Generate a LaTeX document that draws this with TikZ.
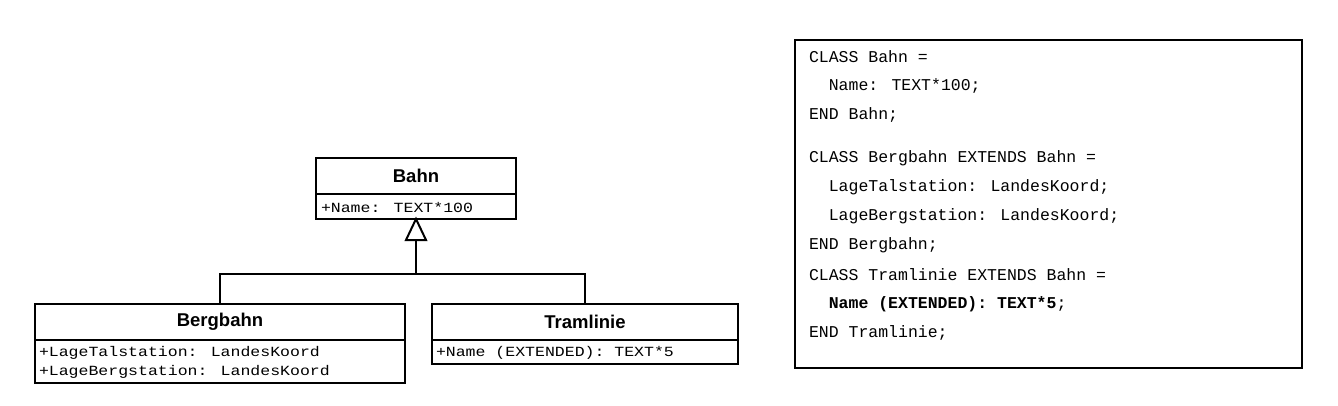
\documentclass[tikz,border=0pt]{standalone}
\usepackage{fontspec}
\setmainfont{Liberation Sans}
\newfontfamily\cmono{Liberation Mono}
\begin{document}
\begin{tikzpicture}[x=1pt,y=-1pt,line width=2pt,
  hdr/.style={font=\fontsize{18.5}{22}\selectfont\bfseries,anchor=center},
  attr/.style={font=\cmono\fontsize{14}{24}\selectfont,anchor=west,inner sep=0pt},
  code/.style={font=\cmono\fontsize{16.5}{29}\selectfont,anchor=west,inner sep=0pt}]
\useasboundingbox (0,0) rectangle (1338,406);
% Bahn
\draw (316,158) rectangle (516,219);
\draw (316,194) -- (516,194);
\node[hdr] (bahn) at (416,176) {Bahn};
\node[attr] (bahnA) at (320,207) {\scalebox{1.18}[1]{+Name: TEXT*100}};
% Bergbahn
\draw (35,304) rectangle (405,383);
\draw (35,340) -- (405,340);
\node[hdr] (berg) at (220,322) {Bergbahn};
\node[attr] (bergA) at (38,353) {\scalebox{1.18}[1]{+LageTalstation: LandesKoord}};
\node[attr] (bergB) at (38,372) {\scalebox{1.18}[1]{+LageBergstation: LandesKoord}};
% Tramlinie
\draw (432,304) rectangle (738,364);
\draw (432,340) -- (738,340);
\node[hdr] (tram) at (585,322) {Tramlinie};
\node[attr] (tramA) at (435,353) {\scalebox{1.18}[1]{+Name (EXTENDED): TEXT*5}};
% generalization
\coordinate (tip) at (416,219);
\coordinate (jn) at (416,274);
\draw (416,240) -- (jn);
\draw (220,304) -- (220,274) -- (585,274) -- (585,304);
\draw[fill=white,line width=2pt,line join=miter] (tip) -- (406,240) -- (426,240) -- cycle;
% code box
\draw[line width=1.2pt] (795,40) rectangle (1302,368);
\node[code] at (808,57) {CLASS Bahn =};
\node[code] at (808,86) {\ \ Name: TEXT*100;};
\node[code] at (808,115) {END Bahn;};
\node[code] at (808,158) {CLASS Bergbahn EXTENDS Bahn =};
\node[code] at (808,187) {\ \ LageTalstation: LandesKoord;};
\node[code] at (808,216) {\ \ LageBergstation: LandesKoord;};
\node[code] at (808,245) {END Bergbahn;};
\node[code] at (808,275) {CLASS Tramlinie EXTENDS Bahn =};
\node[code] at (808,304) {\ \ \textbf{Name (EXTENDED): TEXT*5};};
\node[code] at (808,333) {END Tramlinie;};
\end{tikzpicture}
\end{document}
